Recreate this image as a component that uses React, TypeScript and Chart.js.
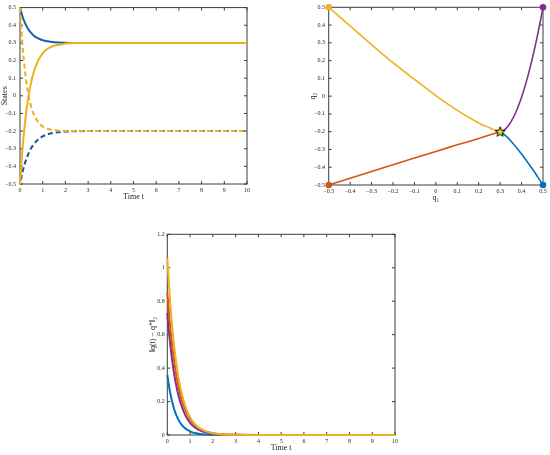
import React, { useEffect, useRef } from 'react';
import { Chart, registerables } from 'chart.js';
Chart.register(...registerables);

// ---------- Data: states vs time (top-left) ----------
const T = [0, 0.1, 0.2, 0.3, 0.4, 0.5, 0.6, 0.8, 1, 1.2, 1.5, 2, 2.5, 3, 4, 5, 6, 7, 8, 9, 10];
const q1BlueSolid = [0.5, 0.454, 0.419, 0.392, 0.371, 0.355, 0.342, 0.325, 0.315, 0.309, 0.304, 0.301, 0.3, 0.3, 0.3, 0.3, 0.3, 0.3, 0.3, 0.3, 0.3];
const q1YellowSolid = [-0.5, -0.317, -0.176, -0.066, 0.018, 0.082, 0.132, 0.2, 0.241, 0.265, 0.284, 0.296, 0.299, 0.3, 0.3, 0.3, 0.3, 0.3, 0.3, 0.3, 0.3];
const q2YellowDashed = [0.5, 0.303, 0.162, 0.06, -0.013, -0.066, -0.103, -0.15, -0.174, -0.187, -0.195, -0.199, -0.2, -0.2, -0.2, -0.2, -0.2, -0.2, -0.2, -0.2, -0.2];
const q2BlueDashed = [-0.5, -0.438, -0.389, -0.351, -0.32, -0.295, -0.276, -0.248, -0.23, -0.219, -0.21, -0.203, -0.201, -0.2, -0.2, -0.2, -0.2, -0.2, -0.2, -0.2, -0.2];

// ---------- Data: phase plane (top-right) ----------
const yelQ1 = [-0.5, -0.45, -0.4, -0.3, -0.2, -0.1, 0, 0.1, 0.2, 0.25, 0.28, 0.3];
const yelQ2 = [0.5, 0.447, 0.395, 0.29, 0.188, 0.094, 0.003, -0.08, -0.151, -0.178, -0.194, -0.2];
const orgQ1 = [-0.5, -0.3, -0.1, 0, 0.1, 0.2, 0.3];
const orgQ2 = [-0.5, -0.424, -0.348, -0.311, -0.274, -0.238, -0.2];
const bluQ1 = [0.5, 0.475, 0.45, 0.4, 0.35, 0.325, 0.3];
const bluQ2 = [-0.5, -0.454, -0.409, -0.325, -0.252, -0.222, -0.2];
const purQ1 = [0.5, 0.48, 0.46, 0.44, 0.42, 0.4, 0.38, 0.36, 0.34, 0.32, 0.3];
const purQ2 = [0.5, 0.376, 0.263, 0.162, 0.072, -0.006, -0.071, -0.124, -0.164, -0.19, -0.2];
const starQ1 = [0.3];
const starQ2 = [-0.2];

// ---------- Data: error norm (bottom) ----------
const errYellow = [1.06, 0.843, 0.669, 0.532, 0.423, 0.336, 0.267, 0.168, 0.106, 0.067, 0.034, 0.011, 0.003, 0.001, 0, 0, 0, 0, 0, 0, 0];
const errOrange = [0.855, 0.686, 0.551, 0.442, 0.355, 0.285, 0.228, 0.147, 0.095, 0.061, 0.032, 0.01, 0.003, 0.001, 0, 0, 0, 0, 0, 0, 0];
const errPurple = [0.73, 0.58, 0.461, 0.366, 0.291, 0.231, 0.184, 0.116, 0.073, 0.046, 0.023, 0.007, 0.002, 0.001, 0, 0, 0, 0, 0, 0, 0];
const errBlue = [0.36, 0.272, 0.206, 0.155, 0.117, 0.089, 0.067, 0.038, 0.022, 0.012, 0.005, 0.001, 0, 0, 0, 0, 0, 0, 0, 0, 0];

const BLUE = '#0072BD';
const BLUE_DARK = '#1b5ea8';
const BLUE_DASH = '#1d5590';
const ORANGE = '#D95319';
const YELLOW = '#EDB120';
const PURPLE = '#7E2F8E';

const FONT = 'Liberation Serif';
const TXT = '#262626';

const pts = (xs: number[], ys: number[]) => xs.map((x, i) => ({ x, y: ys[i] }));

function fmt(v: number) {
  if (Math.abs(v) < 1e-9) return '0';
  const s = String(Math.round(v * 10) / 10);
  return s.replace('-', '\u2212');
}

const boxPlugin = {
  id: 'matlabBox',
  beforeDatasetsDraw(chart: any) {
    const { ctx, chartArea: a, scales } = chart;
    const xs = scales.x;
    const ys = scales.y;
    ctx.save();
    ctx.strokeStyle = '#3c3c3c';
    ctx.lineWidth = 1;
    ctx.beginPath();
    xs.ticks.forEach((t: any) => {
      const p = xs.getPixelForValue(t.value);
      ctx.moveTo(p, a.bottom);
      ctx.lineTo(p, a.bottom - 3);
      ctx.moveTo(p, a.top);
      ctx.lineTo(p, a.top + 3);
    });
    ys.ticks.forEach((t: any) => {
      const p = ys.getPixelForValue(t.value);
      ctx.moveTo(a.left, p);
      ctx.lineTo(a.left + 3, p);
      ctx.moveTo(a.right, p);
      ctx.lineTo(a.right - 3, p);
    });
    ctx.stroke();
    ctx.strokeRect(a.left, a.top, a.right - a.left, a.bottom - a.top);
    ctx.restore();
  },
};

function xScale(min: number, max: number, step: number, title: string, h: number, titlePad: number, tickPad: number) {
  return {
    type: 'linear',
    position: 'bottom',
    min,
    max,
    grid: { display: false, drawTicks: false },
    border: { display: false },
    ticks: {
      stepSize: step,
      autoSkip: false,
      maxRotation: 0,
      padding: tickPad,
      color: TXT,
      font: { family: FONT, size: 6 },
      callback: (v: any) => fmt(Number(v)),
    },
    title: { display: true, text: title, color: TXT, font: { family: FONT, size: 8 }, padding: { top: 0, bottom: titlePad } },
    afterFit: (s: any) => {
      s.height = h;
    },
  };
}

function yScale(min: number, max: number, step: number, title: string, w: number, titlePad: number, tickPad: number) {
  return {
    type: 'linear',
    position: 'left',
    min,
    max,
    grid: { display: false, drawTicks: false },
    border: { display: false },
    ticks: {
      stepSize: step,
      autoSkip: false,
      padding: tickPad,
      color: TXT,
      font: { family: FONT, size: 6 },
      callback: (v: any) => fmt(Number(v)),
    },
    title: { display: true, text: title, color: TXT, font: { family: FONT, size: 8 }, padding: { top: titlePad, bottom: 0 } },
    afterFit: (s: any) => {
      s.width = w;
    },
  };
}

function baseOptions(padding: any, x: any, y: any) {
  return {
    responsive: false,
    animation: false,
    events: [],
    layout: { padding },
    plugins: { legend: { display: false }, tooltip: { enabled: false } },
    scales: { x, y },
  };
}

function makeStar(): HTMLCanvasElement {
  const c = document.createElement('canvas');
  c.width = 14;
  c.height = 14;
  const g = c.getContext('2d')!;
  const cx = 7, cy = 7.3, R = 5.2, r = 2.2;
  g.beginPath();
  for (let i = 0; i < 10; i++) {
    const ang = -Math.PI / 2 + (i * Math.PI) / 5;
    const rad = i % 2 === 0 ? R : r;
    const px = cx + rad * Math.cos(ang);
    const py = cy + rad * Math.sin(ang);
    if (i === 0) g.moveTo(px, py);
    else g.lineTo(px, py);
  }
  g.closePath();
  g.fillStyle = '#F5E21B';
  g.fill();
  g.strokeStyle = '#000';
  g.lineWidth = 1;
  g.stroke();
  return c;
}

export default function App() {
  const r1 = useRef<HTMLCanvasElement>(null);
  const r2 = useRef<HTMLCanvasElement>(null);
  const r3 = useRef<HTMLCanvasElement>(null);

  useEffect(() => {
    const timeLine = (data: number[], color: string, width: number, dash: number[] = [], offset = 0) => ({
      data: pts(T, data),
      borderColor: color,
      backgroundColor: color,
      borderWidth: width,
      borderDash: dash,
      borderDashOffset: offset,
      pointRadius: 0,
      cubicInterpolationMode: 'monotone',
      fill: false,
      clip: false,
    });

    const c1 = new Chart(r1.current!, {
      type: 'line',
      data: {
        datasets: [
          timeLine(q1YellowSolid, YELLOW, 2),
          timeLine(q2YellowDashed, YELLOW, 2, [5, 3]),
          timeLine(q1BlueSolid, BLUE_DARK, 2),
          timeLine(q2BlueDashed, BLUE_DASH, 2, [5, 3], 4),
        ],
      },
      options: baseOptions(
        { top: 6, right: 13, left: 0, bottom: 0 },
        xScale(0, 10, 1, 'Time t', 22, 4, 3),
        yScale(-0.5, 0.5, 0.1, 'States', 20, 0.5, 4)
      ) as any,
      plugins: [boxPlugin],
    });

    const phaseLine = (xs: number[], ys: number[], color: string) => ({
      data: pts(xs, ys),
      borderColor: color,
      backgroundColor: color,
      borderWidth: 1.6,
      pointRadius: (ctx: any) => (ctx.dataIndex === 0 ? 3.3 : 0),
      pointBorderWidth: 0,
      pointBackgroundColor: color,
      tension: 0.3,
      fill: false,
      clip: false,
    });

    const c2 = new Chart(r2.current!, {
      type: 'line',
      data: {
        datasets: [
          {
            data: pts(starQ1, starQ2),
            showLine: false,
            pointStyle: makeStar(),
            pointRadius: 6,
            clip: false,
          } as any,
          phaseLine(yelQ1, yelQ2, YELLOW),
          phaseLine(purQ1, purQ2, PURPLE),
          phaseLine(bluQ1, bluQ2, BLUE),
          phaseLine(orgQ1, orgQ2, ORANGE),
        ],
      },
      options: baseOptions(
        { top: 6.7, right: 7, left: 0, bottom: 0 },
        xScale(-0.5, 0.5, 0.1, 'q\u2081', 21, 3.5, 3),
        yScale(-0.5, 0.5, 0.1, 'q\u2082', 53.7, 33, 3.7)
      ) as any,
      plugins: [boxPlugin],
    });

    const c3 = new Chart(r3.current!, {
      type: 'line',
      data: {
        datasets: [
          timeLine(errYellow, YELLOW, 2),
          timeLine(errOrange, ORANGE, 2),
          timeLine(errPurple, PURPLE, 2),
          timeLine(errBlue, BLUE, 2),
        ],
      },
      options: baseOptions(
        { top: 9.3, right: 25, left: 0, bottom: 0 },
        xScale(0, 10, 1, 'Time t', 20, 2.5, 3),
        yScale(0, 1.2, 0.2, '\u2016q(t) \u2212 q*\u2016\u2082', 37.3, 18, 2.5)
      ) as any,
      plugins: [boxPlugin],
    });

    return () => {
      c1.destroy();
      c2.destroy();
      c3.destroy();
    };
  }, []);

  const abs = (l: number, t: number, w: number, h: number): React.CSSProperties => ({
    position: 'absolute',
    left: l,
    top: t,
    width: w,
    height: h,
  });

  return (
    <div style={{ position: 'absolute', left: 0, top: 0, width: 550, height: 455, background: '#fff' }}>
      <canvas ref={r1} width={260} height={206} style={abs(0, 0, 260, 206)} />
      <canvas ref={r2} width={275} height={206} style={abs(275, 0, 275, 206)} />
      <canvas ref={r3} width={290} height={230} style={abs(130, 225, 290, 230)} />
    </div>
  );
}
